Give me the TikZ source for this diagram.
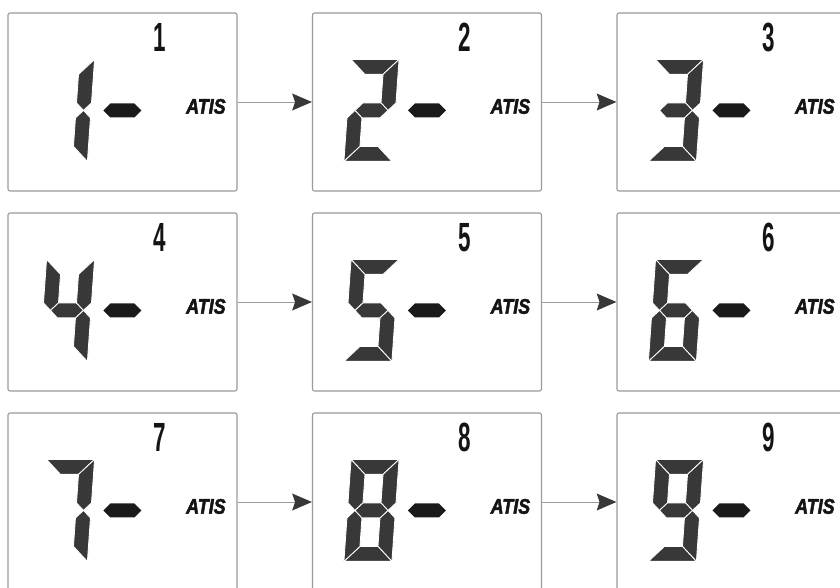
\documentclass[tikz,border=0pt]{standalone}
\usepackage{fontspec}
\setmainfont{Liberation Sans}
\newfontfamily\heavyfont[FakeBold=2.5]{Liberation Sans Bold Italic}
\usepackage{graphicx}
\usepackage{tikz}
\usetikzlibrary{arrows.meta}
\definecolor{PanelFrame}{HTML}{9A9A9A}
\definecolor{SegmentFill}{HTML}{383838}
\definecolor{DashFill}{HTML}{1A1A1A}
\definecolor{LabelInk}{HTML}{141414}
\definecolor{FlowLine}{HTML}{9A9A9A}
\definecolor{FlowHead}{HTML}{383838}
\newcommand{\ModeLabel}{\fontsize{15}{16}\heavyfont}
\newcommand{\IndexLabel}{\fontsize{29}{30}\selectfont\bfseries}
\tikzset{
  panel/.style={draw=PanelFrame,line width=0.8pt,rounded corners=1.5pt,
    minimum width=5.725cm,minimum height=4.45cm,inner sep=0pt},
  segment/.style={fill=SegmentFill,draw=white,line width=0.6pt,line join=miter},
  dash bar/.style={fill=DashFill},
  flow/.style={draw=FlowLine,line width=0.7pt,
    -{Stealth[length=14pt,width=12pt,inset=2pt,color=FlowHead]}}
}
% seven segments, local units (px), origin at lower left of the digit
\newcommand{\lcdsega}{\path[segment] (0,102) -- (48,102) -- (33,87) -- (15,87) -- cycle;}
\newcommand{\lcdsegb}{\path[segment] (48,102) -- (48,58.5) -- (40.5,51) -- (33,58.5) -- (33,87) -- cycle;}
\newcommand{\lcdsegc}{\path[segment] (40.5,51) -- (48,43.5) -- (48,0) -- (33,15) -- (33,43.5) -- cycle;}
\newcommand{\lcdsegd}{\path[segment] (0,0) -- (48,0) -- (33,15) -- (15,15) -- cycle;}
\newcommand{\lcdsege}{\path[segment] (7.5,51) -- (15,43.5) -- (15,15) -- (0,0) -- (0,43.5) -- cycle;}
\newcommand{\lcdsegf}{\path[segment] (0,102) -- (15,87) -- (15,58.5) -- (7.5,51) -- (0,58.5) -- cycle;}
\newcommand{\lcdsegg}{\path[segment] (7.5,51) -- (15,58.5) -- (33,58.5) -- (40.5,51) -- (33,43.5) -- (15,43.5) -- cycle;}

\begin{document}
\begin{tikzpicture}[x=0.025cm,y=0.025cm]
  \path[use as bounding box] (0,0) rectangle (840,587);

  \newcommand{\lcdpanel}[5]{%
    \node[panel] (#1) at (#2,#3) {};%
    \begin{scope}[shift={(#1.north west)}]
      \begin{scope}[shift={(32,-149)},xslant=0.07]
        \foreach \s in {#4}{\csname lcdseg\s\endcsname}
      \end{scope}
      \path[dash bar] (96,-98) -- (103,-91) -- (127,-91) -- (134,-98)
        -- (127,-105) -- (103,-105) -- cycle;
      \node[text=LabelInk,font=\ModeLabel,inner sep=0pt] (#1mode)
        at (198.5,-94) {\scalebox{0.85}[1]{ATIS}};
      \node[anchor=base east,text=LabelInk,font=\IndexLabel,inner sep=0pt] (#1index)
        at (159,-39) {\scalebox{0.55}[1]{#5}};
    \end{scope}
  }

  \lcdpanel{p1}{122.5}{485}{b,c}{1}
  \lcdpanel{p2}{427}{485}{a,b,g,e,d}{2}
  \lcdpanel{p3}{731.5}{485}{a,b,g,c,d}{3}
  \lcdpanel{p4}{122.5}{285}{f,g,b,c}{4}
  \lcdpanel{p5}{427}{285}{a,f,g,c,d}{5}
  \lcdpanel{p6}{731.5}{285}{a,f,g,e,c,d}{6}
  \lcdpanel{p7}{122.5}{85}{a,b,c}{7}
  \lcdpanel{p8}{427}{85}{a,b,c,d,e,f,g}{8}
  \lcdpanel{p9}{731.5}{85}{a,b,c,d,f,g}{9}

  \foreach \a/\b in {p1/p2,p2/p3,p4/p5,p5/p6,p7/p8,p8/p9}
    \draw[flow] (\a.east) -- (\b.west);
\end{tikzpicture}
\end{document}
